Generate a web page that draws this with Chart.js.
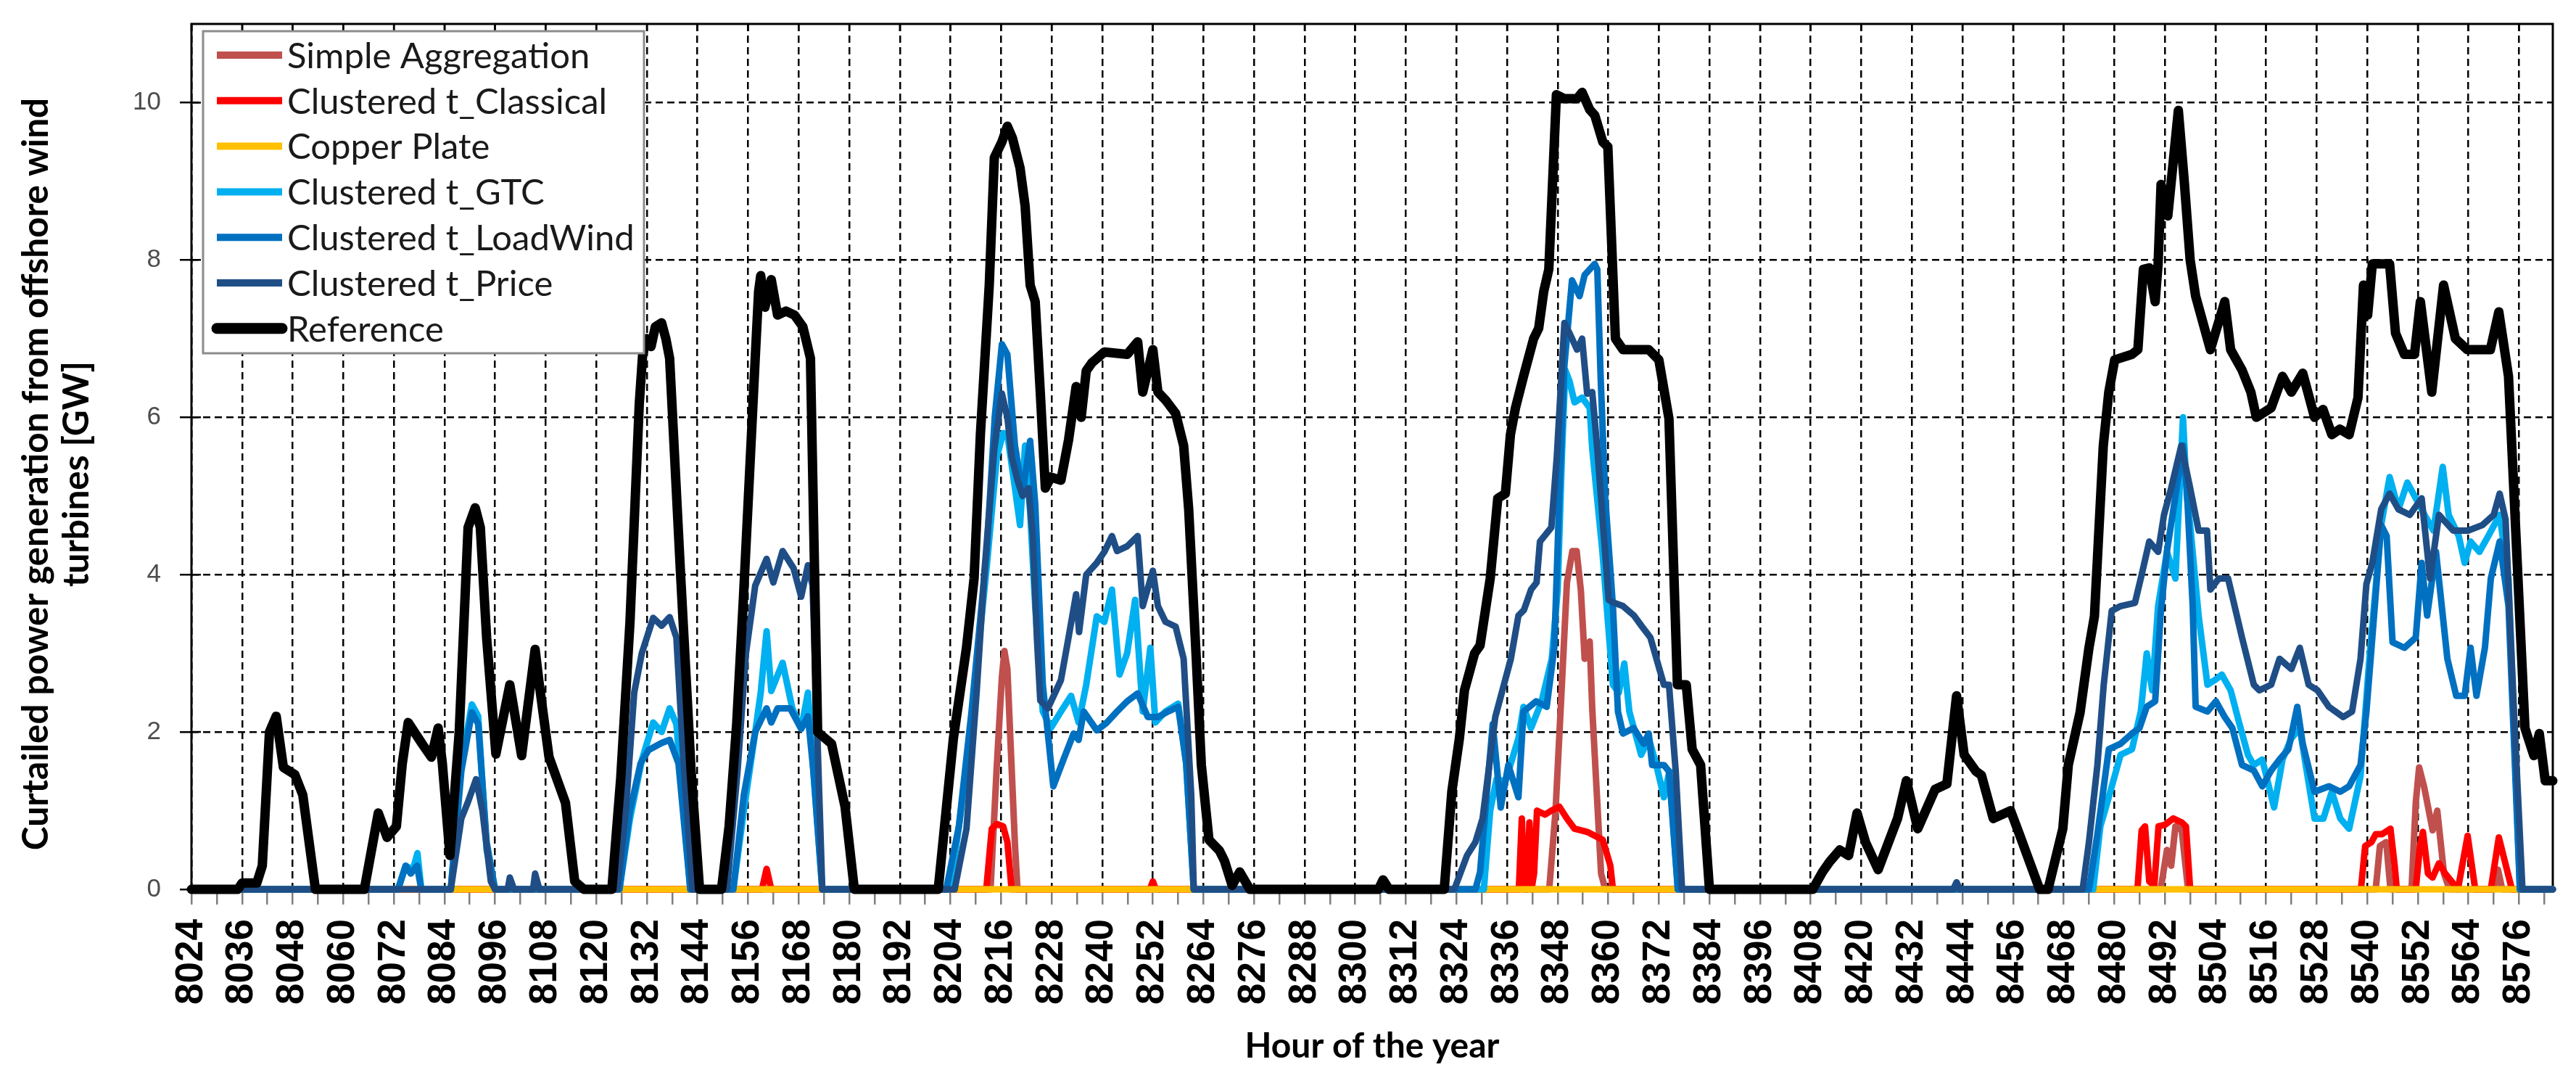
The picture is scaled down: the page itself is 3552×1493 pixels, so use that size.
<!DOCTYPE html>
<html lang="en">
<head>
<meta charset="utf-8">
<title>Curtailed offshore wind</title>
<script src="https://cdn.jsdelivr.net/npm/chart.js@4.4.1/dist/chart.umd.min.js"></script>
<style>
    html, body { margin: 0; padding: 0; background: #ffffff; }
</style>
</head>
<body>
<canvas id="chartCurtailment" width="3552" height="1493"></canvas>
<script>
// --- Datos: pares [hora del año, GW] ---
const horasEtiquetas = [
    8024, 8036, 8048, 8060, 8072, 8084, 8096, 8108, 8120, 8132, 8144, 8156,
    8168, 8180, 8192, 8204, 8216, 8228, 8240, 8252, 8264, 8276, 8288, 8300,
    8312, 8324, 8336, 8348, 8360, 8372, 8384, 8396, 8408, 8420, 8432, 8444,
    8456, 8468, 8480, 8492, 8504, 8516, 8528, 8540, 8552, 8564, 8576
];
const valoresEjeY = [0, 2, 4, 6, 8, 10];
const tituloEjeY = ['Curtailed power generation from offshore wind', 'turbines [GW]'];

const simpleAggregation = [
    [8024, 0], [8213.5, 0], [8215, 1.58], [8216.2, 2.7], [8216.8, 3.03], [8217.5, 2.8], [8218.3, 1.8],
    [8219.3, 0.56], [8219.9, 0], [8346, 0], [8347.5, 1.0], [8349, 2.6], [8350.2, 3.9], [8351.5, 4.3],
    [8352.5, 4.3], [8353.5, 3.8], [8354.4, 2.93], [8355.6, 3.15], [8356.2, 2.3], [8357.5, 1.0],
    [8358.3, 0.2], [8359.3, 0], [8491, 0], [8492.5, 0.5], [8493.5, 0.3], [8494.5, 0.8], [8496, 0.75],
    [8497.5, 0], [8542, 0], [8543, 0.55], [8544.5, 0.6], [8545.5, 0], [8550.5, 0], [8551.5, 1.1],
    [8552.3, 1.55], [8553.5, 1.3], [8555.5, 0.75], [8556.6, 1.0], [8558.2, 0.2], [8559.5, 0],
    [8570, 0], [8571, 0.25], [8572, 0], [8584, 0]
];

const clusteredClassical = [
    [8024, 0], [8159.3, 0], [8160.4, 0.26], [8161.5, 0], [8212.5, 0], [8213.8, 0.77], [8215, 0.83],
    [8216.5, 0.8], [8217.5, 0.6], [8218.5, 0], [8251.3, 0], [8252, 0.1], [8252.7, 0], [8338.8, 0],
    [8339.5, 0.9], [8340.1, 0], [8340.8, 0], [8341.3, 0.85], [8341.8, 0], [8342.4, 0.2], [8343.1, 1.0],
    [8345, 0.95], [8346.5, 1.0], [8348.4, 1.05], [8350.2, 0.9], [8352, 0.77], [8355, 0.73],
    [8358.7, 0.63], [8360.5, 0.3], [8361.1, 0], [8485.5, 0], [8486.5, 0.75], [8487.3, 0.8],
    [8488.3, 0.1], [8489.5, 0.05], [8490.5, 0.8], [8492, 0.82], [8494, 0.9], [8496, 0.85], [8497, 0.8],
    [8498, 0], [8538.5, 0], [8539.5, 0.55], [8541, 0.6], [8542, 0.7], [8543.5, 0.7], [8545.5, 0.77],
    [8546.5, 0.3], [8547, 0], [8551.5, 0], [8552.5, 0.55], [8553.2, 0.73], [8554.4, 0.2], [8555.5, 0.15],
    [8557, 0.33], [8558.5, 0.2], [8560, 0.1], [8561.5, 0], [8563.8, 0.68], [8565.6, 0], [8569.3, 0],
    [8571.2, 0.66], [8574.3, 0], [8584, 0]
];

const copperPlate = [[8024, 0], [8584, 0]];

const clusteredGTC = [
    [8024, 0], [8073, 0], [8074.8, 0.3], [8076.5, 0.25], [8077.6, 0.46], [8078.5, 0],
    [8085.5, 0], [8088, 1.6], [8090.5, 2.35], [8092, 2.2], [8094, 0.5], [8096, 0],
    [8125.5, 0], [8128, 0.9], [8130.8, 1.64], [8133.5, 2.12], [8135.5, 2.0], [8137.4, 2.3], [8139, 2.1], [8142.3, 0],
    [8152.5, 0], [8155, 1.0], [8157.7, 2.0], [8159, 2.5], [8160.4, 3.28], [8161.5, 2.52], [8164.2, 2.88],
    [8166.5, 2.3], [8168.6, 2.04], [8170.2, 2.5], [8171.5, 1.5], [8173.6, 0],
    [8204, 0], [8206.5, 1.0], [8209, 2.2], [8212.6, 4.1], [8215, 5.5], [8216.5, 5.8], [8217.5, 5.78],
    [8219.3, 5.1], [8220.5, 4.63], [8221.7, 5.64], [8222.9, 4.8], [8224.1, 3.6], [8225.9, 2.26],
    [8227.8, 2.05], [8230.2, 2.26], [8232.6, 2.46], [8234.4, 2.12], [8236.2, 2.6], [8238.7, 3.47],
    [8240.5, 3.4], [8242.3, 3.81], [8244.1, 2.73], [8245.9, 3.0], [8247.8, 3.68], [8249.6, 2.26],
    [8251.4, 3.07], [8252.6, 2.12], [8255, 2.26], [8258, 2.36], [8259.9, 1.6], [8261.7, 0],
    [8330.5, 0], [8332, 1.0], [8333.5, 1.4], [8335.6, 1.37], [8338.7, 1.92], [8339.9, 2.32], [8341.7, 2.05],
    [8344.2, 2.39], [8346.6, 2.93], [8348, 3.8], [8349, 5.5], [8349.8, 6.6], [8350.8, 6.46], [8352, 6.19],
    [8353.8, 6.25], [8355.6, 6.12], [8356.2, 5.6], [8358.6, 4.3], [8361.1, 2.6], [8362.5, 2.5],
    [8363.8, 2.87], [8365, 2.26], [8367.8, 1.71], [8369.6, 1.92], [8371.4, 1.58], [8373.2, 1.17],
    [8374.5, 1.5], [8376.5, 0],
    [8475, 0], [8476.7, 0.8], [8478.7, 1.17], [8481.5, 1.71], [8484.2, 1.78], [8486.3, 2.26], [8487.7, 3.0],
    [8489, 2.53], [8490.4, 3.6], [8492.5, 4.29], [8494.5, 3.95], [8496.3, 6.0], [8497.2, 5.0], [8498, 4.63],
    [8500, 3.48], [8502.1, 2.6], [8504.1, 2.67], [8505.5, 2.73], [8507.6, 2.53], [8509.6, 2.12],
    [8511.7, 1.71], [8513.1, 1.58], [8515.1, 1.65], [8517.9, 1.04], [8519.9, 1.65], [8522, 1.92],
    [8524, 2.05], [8525.4, 1.58], [8527.5, 0.9], [8529.6, 0.9], [8531.6, 1.24], [8533.6, 0.9],
    [8535.7, 0.77], [8538.4, 1.44], [8540.5, 2.93], [8543.3, 4.63], [8545.3, 5.24], [8547.4, 4.83],
    [8549.5, 5.17], [8551.5, 4.97], [8553.6, 4.76], [8555.7, 4.56], [8557.9, 5.37], [8559.3, 4.76],
    [8561.7, 4.49], [8563.1, 4.15], [8564.5, 4.42], [8566.6, 4.29], [8568.7, 4.49], [8571.4, 4.76],
    [8573.5, 3.95], [8576.2, 0], [8584, 0]
];

const clusteredLoadWind = [
    [8024, 0], [8073, 0], [8074.8, 0.3], [8076, 0.2], [8077.5, 0.3], [8078.5, 0],
    [8085.5, 0], [8088, 1.5], [8090.5, 2.25], [8092, 2.1], [8094, 0.6], [8096, 0],
    [8125.5, 0], [8128, 1.0], [8130.5, 1.6], [8132.4, 1.77], [8135.5, 1.86], [8137.4, 1.9], [8139.5, 1.6], [8142.3, 0],
    [8152.5, 0], [8155, 1.2], [8157.7, 2.0], [8160.4, 2.3], [8161.5, 2.12], [8163, 2.3], [8166, 2.3],
    [8168.6, 2.04], [8170.2, 2.2], [8171.5, 1.5], [8173.6, 0],
    [8203, 0], [8206, 0.8], [8209, 2.26], [8212.6, 4.3], [8214.5, 6.0], [8216.2, 6.93], [8217.5, 6.8],
    [8219.3, 5.64], [8221.1, 5.03], [8222.9, 5.7], [8224.1, 4.9], [8225.9, 2.6], [8228.4, 1.31],
    [8230.8, 1.65], [8233.2, 1.98], [8234.4, 1.9], [8235.6, 2.26], [8238.7, 2.02], [8241.1, 2.12],
    [8243.5, 2.26], [8245.9, 2.39], [8248.4, 2.49], [8250.8, 2.19], [8253.2, 2.19], [8255.6, 2.26],
    [8258, 2.32], [8259.9, 1.6], [8261.7, 0],
    [8328.5, 0], [8329.6, 0.22], [8332.6, 2.1], [8334.5, 1.04], [8336.3, 1.58], [8338.7, 1.17],
    [8339.9, 2.26], [8342.9, 2.39], [8345.4, 2.32], [8347.2, 3.07], [8348.4, 5.0], [8349.6, 6.66],
    [8351.4, 7.74], [8353.2, 7.54], [8354.4, 7.81], [8356.8, 7.95], [8357.4, 7.88], [8358.2, 6.5],
    [8359.3, 4.97], [8361.1, 3.6], [8362.3, 2.26], [8363.5, 1.98], [8366, 2.05], [8368.4, 1.85],
    [8369.6, 1.98], [8370.4, 1.58], [8373.2, 1.58], [8374.4, 1.5], [8376.5, 0],
    [8474, 0], [8476, 0.7], [8478.7, 1.78], [8481.5, 1.85], [8484.2, 1.98], [8486, 2.05], [8487.7, 2.32],
    [8489.7, 2.39], [8491, 3.5], [8492.5, 4.3], [8495.2, 5.24], [8496.3, 5.64], [8497.2, 5.1],
    [8498.6, 3.6], [8499.3, 2.32], [8502.1, 2.26], [8504.1, 2.39], [8506.2, 2.19], [8508, 2.05],
    [8510.3, 1.58], [8513.1, 1.51], [8515.1, 1.31], [8517.2, 1.51], [8519.2, 1.65], [8521.3, 1.78],
    [8523.4, 2.32], [8524.7, 1.85], [8527.5, 1.24], [8530.9, 1.31], [8533.6, 1.24], [8535.7, 1.31],
    [8538.4, 1.58], [8539.8, 2.26], [8541.2, 3.2], [8543.3, 4.63], [8544.6, 4.49], [8546, 3.14],
    [8548.8, 3.07], [8551.5, 3.2], [8552.9, 4.15], [8554.2, 3.48], [8556.3, 4.29], [8559, 2.93],
    [8561.1, 2.46], [8563.1, 2.46], [8564.5, 3.07], [8565.9, 2.46], [8567.9, 3.07], [8569.3, 3.95],
    [8571.4, 4.42], [8573.5, 3.6], [8576.2, 0], [8584, 0]
];

const clusteredPrice = [
    [8024, 0], [8085.5, 0], [8088, 0.9], [8089.5, 1.1], [8091.5, 1.4], [8093, 1.0], [8095, 0.1], [8096, 0],
    [8099, 0], [8099.5, 0.15], [8100.5, 0], [8105, 0], [8105.5, 0.2], [8106.5, 0],
    [8125, 0], [8127, 1.0], [8129, 2.5], [8130.8, 3.0], [8133.5, 3.45], [8135.5, 3.35], [8137.4, 3.46],
    [8139, 3.2], [8140.5, 1.8], [8142.8, 0],
    [8151, 0], [8153.5, 1.5], [8155.5, 3.0], [8157.7, 3.86], [8160.4, 4.2], [8162, 3.9], [8164.2, 4.3],
    [8166.8, 4.08], [8168.6, 3.72], [8170.2, 4.12], [8171.3, 3.86], [8173.6, 0],
    [8205, 0], [8207.8, 0.77], [8210.2, 2.5], [8212, 4.0], [8214.4, 5.6], [8216.2, 6.3], [8217.5, 6.0],
    [8218.5, 5.5], [8219.9, 5.2], [8221.1, 5.0], [8222.5, 5.1], [8223.5, 4.5], [8224.5, 3.2],
    [8225.3, 2.4], [8227.1, 2.3], [8230.2, 2.66], [8232, 3.2], [8233.8, 3.75], [8234.5, 3.27],
    [8236.2, 4.0], [8238.7, 4.15], [8240.5, 4.29], [8242.3, 4.49], [8243.5, 4.3], [8245.9, 4.36],
    [8248.4, 4.49], [8249.6, 3.6], [8252, 4.05], [8253.2, 3.6], [8255, 3.4], [8257.4, 3.34],
    [8259.3, 2.93], [8261.1, 1.2], [8261.7, 0],
    [8323.5, 0], [8326.5, 0.43], [8328.5, 0.6], [8330.2, 0.9], [8333.2, 2.19], [8336.9, 2.93],
    [8338.7, 3.48], [8340, 3.55], [8341.7, 3.81], [8343, 3.9], [8343.8, 4.42], [8346.5, 4.6],
    [8347.8, 5.5], [8349.6, 7.2], [8350.8, 7.07], [8352.6, 6.86], [8353.8, 7.0], [8355, 6.3],
    [8356.2, 6.32], [8357.4, 5.6], [8360.1, 3.68], [8361, 3.65], [8363.5, 3.6], [8366.1, 3.48],
    [8368, 3.34], [8370, 3.2], [8373.2, 2.6], [8374.4, 2.6], [8376, 1.5], [8377.5, 0],
    [8441.8, 0], [8442.6, 0.09], [8443.4, 0],
    [8472.5, 0], [8474, 0.6], [8476, 1.58], [8477.5, 2.6], [8479.4, 3.54], [8481.5, 3.6], [8484.9, 3.64],
    [8486.5, 4.0], [8488.3, 4.42], [8490.4, 4.29], [8491.8, 4.76], [8493.5, 5.1], [8495.9, 5.64],
    [8498, 5.1], [8500, 4.56], [8502, 4.56], [8502.8, 3.81], [8504.8, 3.95], [8507, 3.95],
    [8510.3, 3.2], [8513.1, 2.6], [8514.4, 2.53], [8517.2, 2.6], [8519.2, 2.93], [8522, 2.8],
    [8524, 3.07], [8526.1, 2.6], [8528.2, 2.53], [8530.9, 2.32], [8534.3, 2.19], [8536.4, 2.26],
    [8538.4, 2.93], [8539.8, 3.88], [8541.2, 4.15], [8543.3, 4.83], [8545.3, 5.03], [8547.4, 4.83],
    [8550.1, 4.76], [8552.9, 4.97], [8554.9, 3.95], [8557, 4.76], [8560.4, 4.56], [8563.9, 4.56],
    [8567.3, 4.63], [8570, 4.76], [8571.4, 5.03], [8572.8, 4.7], [8574.8, 2.26], [8576.8, 0], [8584, 0]
];

const reference = [
    [8024, 0], [8035, 0], [8036, 0.08], [8039.5, 0.08], [8040.8, 0.3], [8042.5, 2.0], [8044.1, 2.2],
    [8045.8, 1.55], [8048.5, 1.46], [8050.4, 1.2], [8053.4, 0],
    [8065, 0], [8068.3, 0.97], [8070.4, 0.66], [8072.6, 0.8], [8074, 1.6], [8075.4, 2.12], [8078.7, 1.85],
    [8080.9, 1.68], [8082.5, 2.05], [8083.5, 1.6], [8085.3, 0.43], [8087.5, 2.0], [8089.6, 4.6],
    [8091.3, 4.85], [8092.5, 4.6], [8094, 3.2], [8096.2, 1.72], [8099.5, 2.6], [8102.3, 1.7],
    [8105.5, 3.05], [8106.5, 2.6], [8108.8, 1.68], [8112.7, 1.1], [8114.9, 0.1], [8117.1, 0],
    [8123.7, 0], [8125.8, 1.41], [8128, 3.4], [8130.2, 6.17], [8131, 6.8], [8132, 7.0], [8133, 6.9],
    [8134, 7.15], [8135.5, 7.2], [8136.5, 7.0], [8137.4, 6.75], [8140, 4.0], [8142.5, 1.5], [8144.5, 0],
    [8149.7, 0], [8151.5, 0.8], [8153.3, 2.1], [8154.9, 3.7], [8157.7, 6.75], [8158.5, 7.6], [8159, 7.8],
    [8160, 7.4], [8161.5, 7.75], [8163, 7.3], [8165, 7.35], [8167, 7.3], [8169, 7.15], [8170.8, 6.75],
    [8172.5, 2.0], [8175.8, 1.85], [8179, 1.05], [8181.2, 0],
    [8201.1, 0], [8204.7, 1.92], [8207.8, 3.07], [8209.6, 3.95], [8211.1, 5.78], [8213.2, 7.68],
    [8214.4, 9.3], [8216.2, 9.5], [8217.5, 9.7], [8218.7, 9.55], [8220.5, 9.17], [8221.7, 8.69],
    [8222.9, 7.68], [8224.1, 7.47], [8225.3, 6.32], [8226.5, 5.1], [8227.8, 5.24], [8230.2, 5.2],
    [8232, 5.71], [8233.8, 6.39], [8235, 6.0], [8236.2, 6.59], [8237.5, 6.69], [8240.5, 6.83],
    [8245.9, 6.8], [8248.4, 6.96], [8249.6, 6.32], [8252, 6.86], [8253.2, 6.32], [8255, 6.22],
    [8257.4, 6.05], [8259.3, 5.64], [8260.5, 4.83], [8262.3, 2.93], [8263.5, 1.58], [8265.3, 0.63],
    [8267.8, 0.49], [8269, 0.36], [8270.8, 0.05], [8272.6, 0.22], [8275, 0],
    [8305.5, 0], [8306.6, 0.12], [8308, 0],
    [8321.1, 0], [8322.9, 1.24], [8324.7, 1.92], [8325.9, 2.53], [8328.3, 3.0], [8329.6, 3.1],
    [8332, 3.95], [8333.8, 4.97], [8335.6, 5.03], [8336.8, 5.78], [8338, 6.12], [8339.9, 6.52],
    [8342.3, 7.0], [8343.5, 7.13], [8344.7, 7.6], [8345.9, 7.88], [8347.7, 10.1], [8349.6, 10.05],
    [8352.6, 10.05], [8353.8, 10.13], [8355.6, 9.91], [8356.8, 9.84], [8358.7, 9.5], [8359.9, 9.44],
    [8361.7, 7.0], [8363.5, 6.86], [8369.6, 6.86], [8372, 6.73], [8374.4, 5.98], [8376.4, 2.6],
    [8378.5, 2.6], [8379.9, 1.78], [8381.9, 1.58], [8384, 0],
    [8408.5, 0], [8410.8, 0.22], [8412.5, 0.35], [8414.9, 0.5], [8417, 0.43], [8419, 0.97], [8421, 0.6],
    [8424, 0.25], [8428.6, 0.9], [8430.7, 1.38], [8433.4, 0.77], [8437.5, 1.27], [8440.3, 1.34],
    [8442.6, 2.46], [8444.4, 1.71], [8447.2, 1.5], [8448.5, 1.45], [8451.3, 0.9], [8455.4, 1.0],
    [8457.5, 0.7], [8462.3, 0], [8464.3, 0], [8467.8, 0.77], [8469.1, 1.58], [8471.9, 2.25],
    [8474, 3.07], [8475.3, 3.47], [8477.4, 5.64], [8478.7, 6.32], [8480.1, 6.73], [8484.2, 6.8],
    [8485.6, 6.86], [8486.9, 7.88], [8488.3, 7.9], [8489.7, 7.47], [8490.4, 7.95], [8491.1, 8.96],
    [8492.7, 8.56], [8495.2, 9.9], [8496.6, 9.0], [8498, 8.0], [8499.3, 7.54], [8502.8, 6.86],
    [8506.2, 7.47], [8507.6, 6.86], [8510.3, 6.6], [8512.4, 6.32], [8513.7, 6.0], [8517.2, 6.12],
    [8519.9, 6.52], [8522, 6.32], [8524.7, 6.56], [8527.5, 6.0], [8529.5, 6.1], [8531.6, 5.78],
    [8533.5, 5.85], [8535.7, 5.78], [8537.8, 6.25], [8539.1, 7.68], [8540.1, 7.3], [8541.2, 7.95],
    [8545.3, 7.95], [8546.7, 7.07], [8548.8, 6.8], [8551.2, 6.8], [8552.6, 7.47], [8555.3, 6.32],
    [8558.1, 7.68], [8560.9, 7.0], [8563.7, 6.86], [8569.2, 6.86], [8571.2, 7.34], [8573.5, 6.52],
    [8577.4, 2.05], [8579.5, 1.7], [8580.8, 1.98], [8582.2, 1.38], [8584, 1.38]
];

// --- Conversión de pares a puntos {x, y} para Chart.js ---
const aPuntos = (pares) => pares.map(([x, y]) => ({ x, y }));

const FUENTE_TEXTO = 'Lato, "Open Sans", sans-serif';
const FUENTE_NUM = '"Liberation Sans", Arial, sans-serif';

function serie(label, pares, color, ancho, orden) {
    return {
        label: label,
        data: aPuntos(pares),
        borderColor: color,
        backgroundColor: color,
        borderWidth: ancho,
        pointRadius: 0,
        tension: 0,
        fill: false,
        borderJoinStyle: 'round',
        borderCapStyle: 'round',
        clip: 8,
        order: orden
    };
}

// El orden bajo se dibuja encima: Reference queda arriba de todo
const datasets = [
    serie('Simple Aggregation', simpleAggregation, '#C0504D', 9, 6),
    serie('Clustered t_Classical', clusteredClassical, '#FF0000', 9, 5),
    serie('Copper Plate', copperPlate, '#FFC000', 9, 4),
    serie('Clustered t_GTC', clusteredGTC, '#00B0F0', 9, 3),
    serie('Clustered t_LoadWind', clusteredLoadWind, '#0070C0', 9, 2),
    serie('Clustered t_Price', clusteredPrice, '#1F4E86', 9, 1),
    serie('Reference', reference, '#000000', 13, 0)
];

// --- Marco negro del área de trazado y marcas interiores ---
const marcoPlugin = {
    id: 'marcoArea',
    beforeDatasetsDraw(chart) {
        const { ctx, chartArea: { left, right, top, bottom } } = chart;
        const x = chart.scales.x;
        const y = chart.scales.y;
        ctx.save();
        ctx.strokeStyle = '#000';
        ctx.lineWidth = 3;
        ctx.setLineDash([]);
        ctx.strokeRect(left, top, right - left, bottom - top);
        ctx.lineWidth = 2.5;
        ctx.beginPath();
        valoresEjeY.forEach(v => {
            const py = y.getPixelForValue(v);
            ctx.moveTo(left, py);
            ctx.lineTo(left + 13, py);
        });
        horasEtiquetas.forEach(h => {
            const px = x.getPixelForValue(h);
            ctx.moveTo(px, top);
            ctx.lineTo(px, top + 10);
        });
        ctx.stroke();
        ctx.restore();
    }
};

// --- Título del eje Y en dos líneas, girado ---
const tituloYPlugin = {
    id: 'tituloEjeY',
    afterDraw(chart) {
        const { ctx, chartArea } = chart;
        const centroY = (chartArea.top + chartArea.bottom) / 2 + 24;
        ctx.save();
        ctx.translate(0, centroY);
        ctx.rotate(-Math.PI / 2);
        ctx.font = 'bold 49.5px ' + FUENTE_TEXTO;
        ctx.fillStyle = '#000';
        ctx.textAlign = 'center';
        ctx.textBaseline = 'middle';
        tituloEjeY.forEach((linea, i) => ctx.fillText(linea, 0, 50 + i * 56));
        ctx.restore();
    }
};

// --- Leyenda dibujada dentro del área, arriba a la izquierda ---
const leyendaPlugin = {
    id: 'leyendaInterna',
    afterDraw(chart) {
        const { ctx, chartArea } = chart;
        const bx = chartArea.left + 16;
        const by = chartArea.top + 10;
        const bw = 608;
        const bh = 444;
        ctx.save();
        ctx.fillStyle = '#ffffff';
        ctx.fillRect(bx, by, bw, bh);
        ctx.strokeStyle = '#8c8c8c';
        ctx.lineWidth = 3;
        ctx.setLineDash([]);
        ctx.strokeRect(bx, by, bw, bh);

        ctx.font = '49px ' + FUENTE_TEXTO;
        ctx.textBaseline = 'middle';
        ctx.textAlign = 'left';
        chart.data.datasets.forEach((ds, i) => {
            const cy = by + 33 + i * 62.8;
            ctx.beginPath();
            ctx.strokeStyle = ds.borderColor;
            ctx.lineWidth = ds.label === 'Reference' ? 15 : 10;
            ctx.lineCap = ds.label === 'Reference' ? 'round' : 'butt';
            ctx.moveTo(bx + 19, cy);
            ctx.lineTo(bx + 109, cy);
            ctx.stroke();
            ctx.fillStyle = '#1a1a1a';
            ctx.fillText(ds.label, bx + 116, cy + 2);
        });
        ctx.restore();
    }
};

const esMayor = (v) => horasEtiquetas.includes(v);

new Chart(document.getElementById('chartCurtailment'), {
    type: 'line',
    data: { datasets: datasets },
    options: {
        responsive: false,
        devicePixelRatio: 1,
        animation: false,
        events: [],
        layout: { padding: { top: 33, right: 32, bottom: 0, left: 0 } },
        plugins: {
            legend: { display: false },
            tooltip: { enabled: false }
        },
        scales: {
            x: {
                type: 'linear',
                min: 8024,
                max: 8584,
                afterBuildTicks: (eje) => {
                    const marcas = [];
                    horasEtiquetas.forEach(h => {
                        marcas.push({ value: h });
                        marcas.push({ value: h + 6 });
                    });
                    eje.ticks = marcas;
                },
                afterFit: (eje) => {
                    eje.height = 267;
                    eje.paddingLeft = 0;
                    eje.paddingRight = 0;
                },
                ticks: {
                    autoSkip: false,
                    minRotation: 90,
                    maxRotation: 90,
                    padding: 20,
                    color: '#000',
                    font: { family: FUENTE_NUM, size: 53, weight: 'bold' },
                    callback: (v) => esMayor(v) ? String(v) : ''
                },
                grid: {
                    color: (c) => (c.tick && esMayor(c.tick.value)) ? '#000' : 'rgba(0,0,0,0)',
                    lineWidth: 2.5,
                    tickLength: 21,
                    tickColor: '#7f7f7f',
                    tickWidth: 2.5
                },
                border: { display: false, dash: [10, 6] },
                title: {
                    display: true,
                    text: 'Hour of the year',
                    color: '#000',
                    font: { family: FUENTE_TEXTO, size: 48, weight: 'bold' },
                    padding: { top: 0, bottom: 22 }
                }
            },
            y: {
                min: 0,
                max: 11,
                afterBuildTicks: (eje) => { eje.ticks = valoresEjeY.map(v => ({ value: v })); },
                afterFit: (eje) => {
                    eje.width = 264;
                    eje.paddingTop = 0;
                    eje.paddingBottom = 0;
                },
                ticks: {
                    padding: 26,
                    color: '#4d4d4d',
                    font: { family: FUENTE_NUM, size: 35 },
                    callback: (v) => String(v)
                },
                grid: {
                    color: '#000',
                    lineWidth: 2.5,
                    tickLength: 16,
                    tickColor: '#000',
                    tickWidth: 2.5
                },
                border: { display: false, dash: [10, 6] },
                title: { display: false }
            }
        }
    },
    plugins: [marcoPlugin, tituloYPlugin, leyendaPlugin]
});
</script>
</body>
</html>
